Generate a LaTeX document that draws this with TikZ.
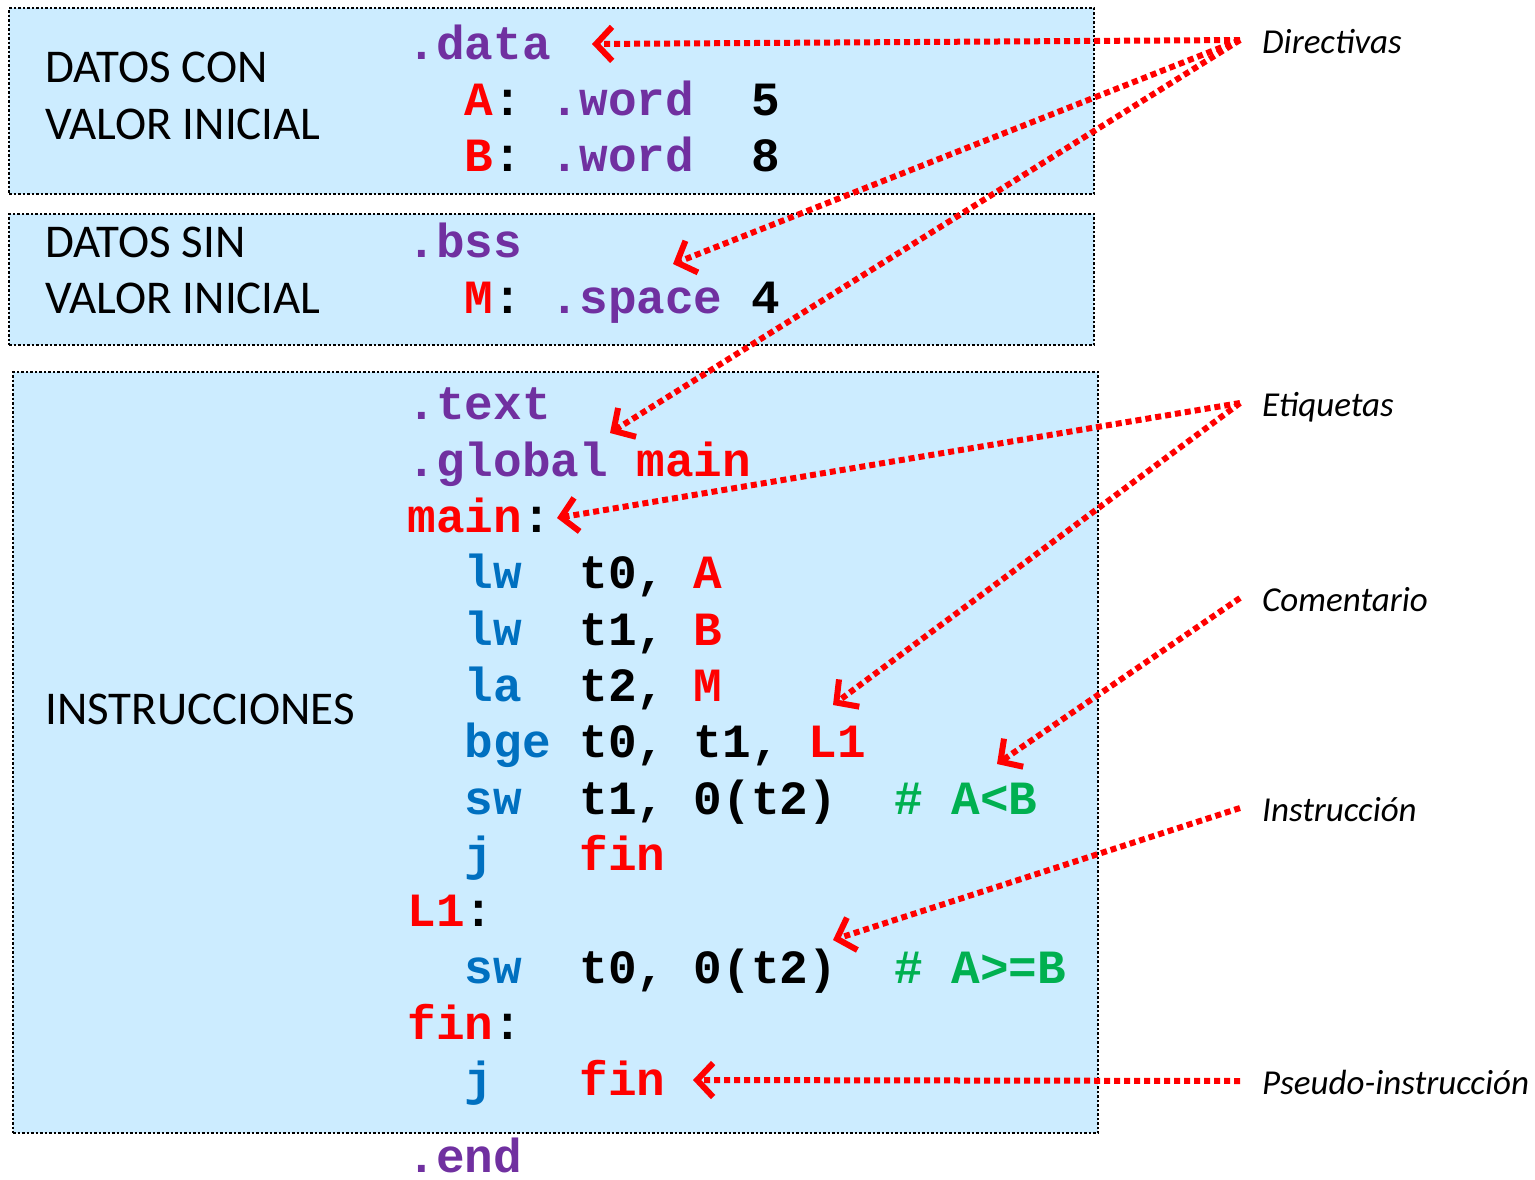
\documentclass[tikz,border=0pt]{standalone}
\usepackage{fontspec}
\setmainfont{Carlito}
\newfontfamily\codefont{Liberation Mono}
\usetikzlibrary{arrows.meta}
\definecolor{boxfill}{HTML}{CCECFF}
\definecolor{dirc}{HTML}{7030A0}
\definecolor{insc}{HTML}{0070C0}
\definecolor{comc}{HTML}{00B050}
\definecolor{labc}{HTML}{FF0000}
\newcommand{\Dr}[1]{\textcolor{dirc}{#1}}
\newcommand{\Lb}[1]{\textcolor{labc}{#1}}
\newcommand{\Is}[1]{\textcolor{insc}{#1}}
\newcommand{\Cm}[1]{\textcolor{comc}{#1}}
\begin{document}
\begin{tikzpicture}[x=1pt,y=-1pt,
  codeline/.style={anchor=base west, inner sep=0pt, font=\codefont\bfseries\fontsize{47.7}{50}\selectfont},
  sectlbl/.style={anchor=base west, inner sep=0pt, font=\fontsize{47}{52}\selectfont},
  notelbl/.style={anchor=west, inner xsep=22pt, inner ysep=0pt, text height=26pt, text depth=0pt, font=\itshape\fontsize{35}{38}\selectfont},
  regionbox/.style={anchor=north west, inner sep=0pt, fill=boxfill, draw=black, line width=2pt, dash pattern=on 2.5pt off 2pt},
  pointer/.style={draw=labc, line width=6pt, dash pattern=on 6pt off 4pt, -{Straight Barb[length=16pt,width=34pt]}}
]
\useasboundingbox (0,0) rectangle (1535,1179);

% boxes
\node[regionbox, minimum width=1085pt, minimum height=186pt] (boxA) at (8,7) {};
\node[regionbox, minimum width=1085pt, minimum height=131pt] (boxB) at (8,213) {};
\node[regionbox, minimum width=1085pt, minimum height=761pt] (boxC) at (12,371) {};

% section labels
\node[sectlbl] (s1a) at (45,82) {DATOS CON};
\node[sectlbl] (s1b) at (45,139) {VALOR INICIAL};
\node[sectlbl] (s2a) at (45,257) {DATOS SIN};
\node[sectlbl] (s2b) at (45,313) {VALOR INICIAL};
\node[sectlbl] (s3) at (45,724) {INSTRUCCIONES};

% code
\node[codeline] (c1) at (407.5,59) {\Dr{.data}};
\node[codeline] (c2) at (407.5,115) {~~\Lb{A}:~\Dr{.word}~~5};
\node[codeline] (c3) at (407.5,171) {~~\Lb{B}:~\Dr{.word}~~8};
\node[codeline] (c4) at (407.5,257) {\Dr{.bss}};
\node[codeline] (c5) at (407.5,313) {~~\Lb{M}:~\Dr{.space}~4};
\node[codeline] (c6) at (407.5,419) {\Dr{.text}};
\node[codeline] (c7) at (407.5,476) {\Dr{.global}~\Lb{main}};
\node[codeline] (c8) at (407.5,532) {\Lb{main}:};
\node[codeline] (c9) at (407.5,588) {~~\Is{lw}~~t0,~\Lb{A}};
\node[codeline] (c10) at (407.5,645) {~~\Is{lw}~~t1,~\Lb{B}};
\node[codeline] (c11) at (407.5,701) {~~\Is{la}~~t2,~\Lb{M}};
\node[codeline] (c12) at (407.5,757) {~~\Is{bge}~t0,~t1,~\Lb{L1}};
\node[codeline] (c13) at (407.5,814) {~~\Is{sw}~~t1,~0(t2)~~\Cm{\#~A<B}};
\node[codeline] (c14) at (407.5,870) {~~\Is{j}~~~\Lb{fin}};
\node[codeline] (c15) at (407.5,926) {\Lb{L1}:};
\node[codeline] (c16) at (407.5,983) {~~\Is{sw}~~t0,~0(t2)~~\Cm{\#~A>=B}};
\node[codeline] (c17) at (407.5,1039) {\Lb{fin}:};
\node[codeline] (c18) at (407.5,1095) {~~\Is{j}~~~\Lb{fin}};
\node[codeline] (c19) at (407.5,1172) {\Dr{.end}};

% note labels
\node[notelbl] (nDir) at (1240,40) {Directivas};
\node[notelbl] (nEti) at (1240,403) {Etiquetas};
\node[notelbl] (nCom) at (1240,598) {Comentario};
\node[notelbl] (nIns) at (1240,808) {Instrucción};
\node[notelbl] (nPse) at (1240,1081) {Pseudo-instrucción};

% arrow tips
\coordinate (tData) at (592,44);
\coordinate (tBss) at (673,264);
\coordinate (tText) at (610,433);
\coordinate (tMain) at (557,518);
\coordinate (tL1) at (833,705);
\coordinate (tCom) at (997,764);
\coordinate (tIns) at (833,940);
\coordinate (tFin) at (693,1080);

\draw[pointer] (nDir.west) -- (tData);
\draw[pointer] (nDir.west) -- (tBss);
\draw[pointer] (nDir.west) -- (tText);
\draw[pointer] (nEti.west) -- (tMain);
\draw[pointer] (nEti.west) -- (tL1);
\draw[pointer] (nCom.west) -- (tCom);
\draw[pointer] (nIns.west) -- (tIns);
\draw[pointer] (nPse.west) -- (tFin);
\end{tikzpicture}
\end{document}
